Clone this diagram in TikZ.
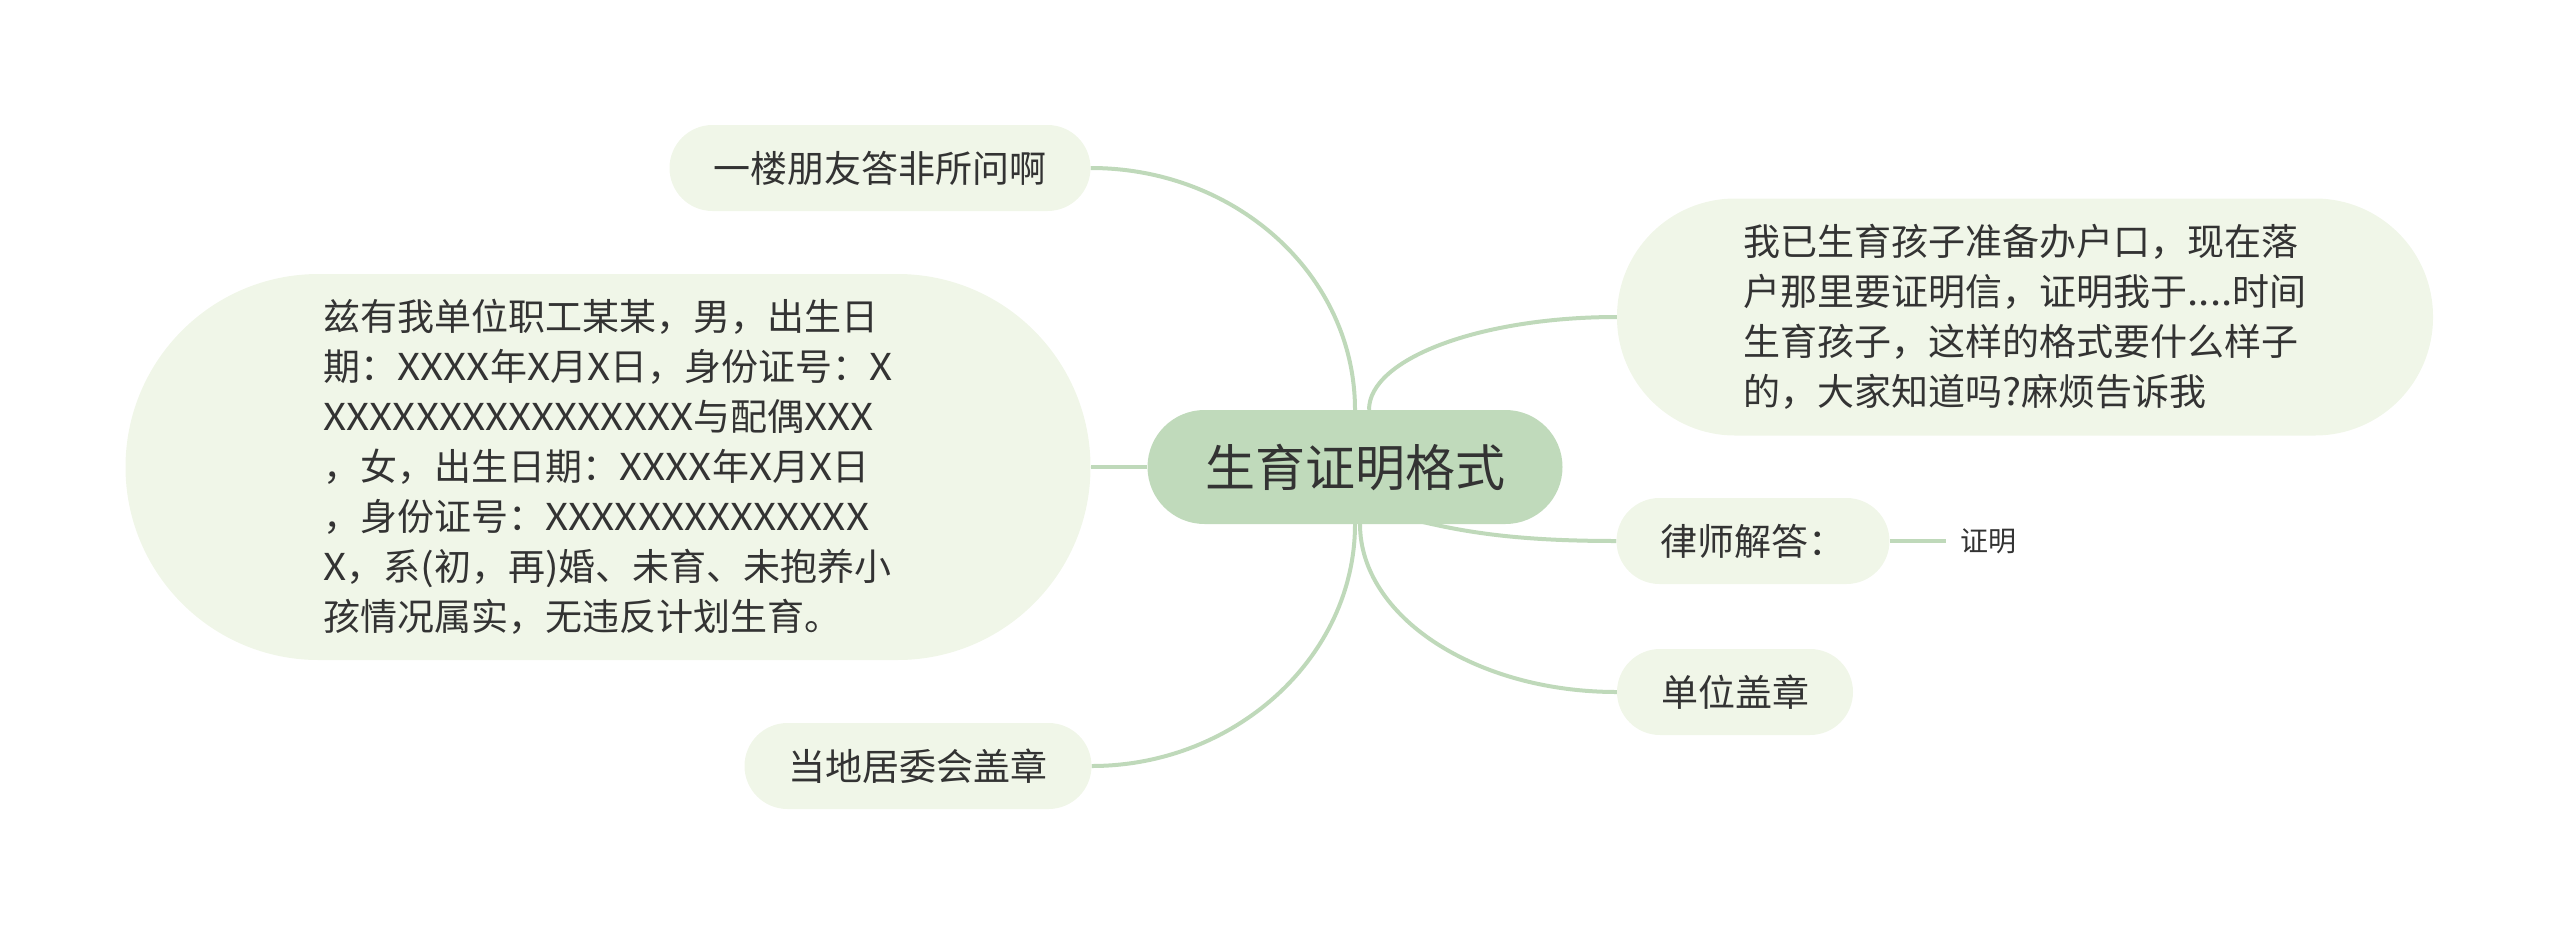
\documentclass[tikz,border=0pt]{standalone}
\usepackage{fontspec}
\newfontfamily\cjk{Noto Sans CJK SC}
\newfontfamily\cjklat[FakeStretch=1.09]{Noto Sans CJK SC}
\newcommand\lat[1]{{\cjklat #1}}
\usetikzlibrary{positioning,backgrounds}
\definecolor{rootgreen}{HTML}{C0DABB}
\definecolor{leafgreen}{HTML}{F0F6E8}
\definecolor{linegreen}{HTML}{BFD9BA}
\definecolor{textgray}{HTML}{333333}

\begin{document}
\begin{tikzpicture}[
  x=1pt, y=1pt,
  every node/.style={text=textgray, inner sep=0pt},
  topic/.style={fill=rootgreen, rounded corners=57pt, minimum width=415pt,
    minimum height=114pt, font=\cjk\fontsize{50}{60}\selectfont},
  leaf/.style={fill=leafgreen, rounded corners=43pt, minimum height=86pt,
    inner xsep=44pt, font=\cjk\fontsize{37}{50}\selectfont},
  bigleaf/.style={leaf, align=left},
  sub/.style={inner xsep=15pt, font=\cjk\fontsize{28}{34}\selectfont},
  branch/.style={draw=linegreen, line width=4pt}
]
\useasboundingbox (0,0) rectangle (2560,-935);

\node[topic] (root) at (1355,-467) {生育证明格式};

\node[leaf] (friend) at (880,-168) {一楼朋友答非所问啊};
\node[bigleaf, minimum width=965pt, minimum height=386pt, rounded corners=193pt]
  (letter) at (608,-467) {兹有我单位职工某某，男，出生日\\
  期：\lat{XXXX}年\lat{X}月\lat{X}日，身份证号：\lat{X}\\
  \lat{XXXXXXXXXXXXXXXX}与配偶\lat{XXX}\\
  ，女，出生日期：\lat{XXXX}年\lat{X}月\lat{X}日\\
  ，身份证号：\lat{XXXXXXXXXXXXXX}\\
  \lat{X}，系\lat{(}初，再\lat{)}婚、未育、未抱养小\\
  孩情况属实，无违反计划生育。};
\node[leaf] (stamp) at (918,-766) {当地居委会盖章};

\node[bigleaf, minimum width=816pt, minimum height=237pt, rounded corners=118pt]
  (ask) at (2025,-317) {我已生育孩子准备办户口，现在落\\
  户那里要证明信，证明我于\lat{....}时间\\
  生育孩子，这样的格式要什么样子\\
  的，大家知道吗\lat{?}麻烦告诉我};
\node[leaf] (lawyer) at (1753,-541) {律师解答：};
\node[sub, right=56pt of lawyer] (ans) {证明};
\node[leaf] (unit) at (1735,-692) {单位盖章};

\begin{scope}[on background layer]
\draw[branch] (root.north) .. controls +(0,134) and +(146,0) .. (friend.east);
\draw[branch] (root.west) -- (letter.east);
\draw[branch] (root.south) .. controls +(0,-133) and +(143,0) .. (stamp.east);
\draw[branch] ([xshift=14pt]root.north) .. controls +(0,51) and +(-137,0) .. (ask.west);
\draw[branch] ([yshift=20pt]root.south) .. controls +(80,-22) and +(-130,0) .. (lawyer.west);
\draw[branch] ([xshift=5pt]root.south) .. controls +(0,-92) and +(-142,0) .. (unit.west);
\draw[branch] (lawyer.east) -- (ans.west);
\end{scope}
\end{tikzpicture}
\end{document}
